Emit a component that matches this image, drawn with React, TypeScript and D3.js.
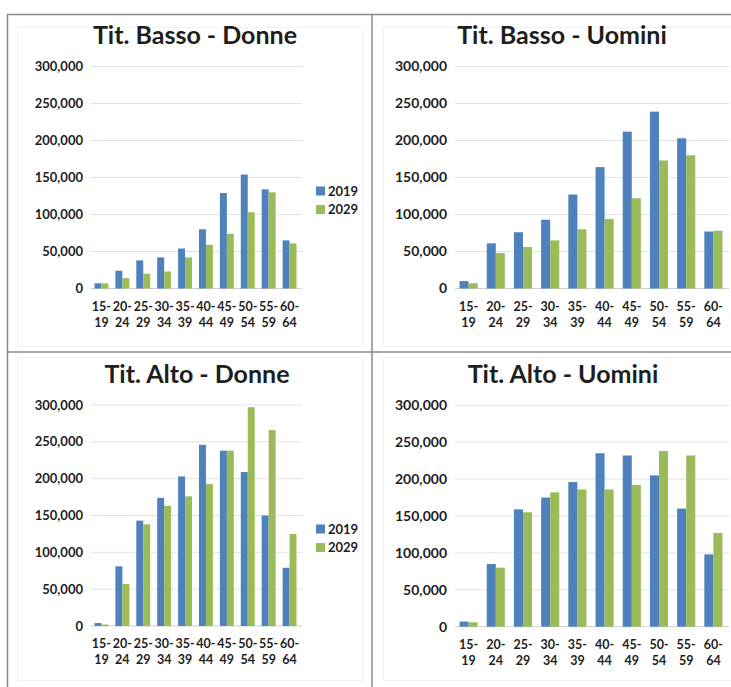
import React from "react";
import * as d3 from "d3";

const categories = ["15-19", "20-24", "25-29", "30-34", "35-39", "40-44", "45-49", "50-54", "55-59", "60-64"];
const seriesNames = ["2019", "2029"];
const yTicks = [0, 50000, 100000, 150000, 200000, 250000, 300000];

const bassoDonne2019 = [7000, 24000, 38000, 42000, 54000, 80000, 129000, 154000, 134000, 65000];
const bassoDonne2029 = [7000, 14000, 20000, 23000, 42000, 59000, 74000, 103000, 130000, 61000];
const bassoUomini2019 = [10000, 61000, 76000, 93000, 127000, 164000, 212000, 239000, 203000, 77000];
const bassoUomini2029 = [7000, 48000, 56000, 65000, 80000, 94000, 122000, 173000, 180000, 78000];
const altoDonne2019 = [4000, 81000, 143000, 174000, 203000, 246000, 238000, 209000, 150000, 79000];
const altoDonne2029 = [2000, 57000, 138000, 163000, 176000, 193000, 238000, 297000, 266000, 125000];
const altoUomini2019 = [7000, 85000, 159000, 175000, 196000, 235000, 232000, 205000, 160000, 98000];
const altoUomini2029 = [6000, 80000, 155000, 182000, 186000, 186000, 192000, 238000, 232000, 127000];

const titles = ["Tit. Basso - Donne", "Tit. Basso - Uomini", "Tit. Alto - Donne", "Tit. Alto - Uomini"];

const COLORS = ["#4F81BD", "#9BBB59"];
const FONT = "Lato, 'Open Sans', sans-serif";
const TXT = "#1e1e1e";

type Layout = {
  x0: number; x1: number; yTop: number; yBase: number;
  titleX: number; titleY: number; labelY: number; yLabelX: number; yFont: number;
  legend: null | { x: number; y: number };
};

const layouts: Layout[] = [
  { x0: 91, x1: 300, yTop: 66.5, yBase: 288.5, titleX: 195, titleY: 44, labelY: 311, yLabelX: 83, yFont: 13, legend: { x: 316, y: 191 } },
  { x0: 455, x1: 727, yTop: 66.5, yBase: 288.5, titleX: 562, titleY: 44, labelY: 311, yLabelX: 447, yFont: 14, legend: null },
  { x0: 91, x1: 300, yTop: 405, yBase: 626, titleX: 197, titleY: 383, labelY: 648, yLabelX: 83, yFont: 13, legend: { x: 316, y: 529 } },
  { x0: 455, x1: 727, yTop: 405.3, yBase: 626.7, titleX: 563, titleY: 383, labelY: 649, yLabelX: 447, yFont: 14, legend: null },
];

const panelData = [
  [bassoDonne2019, bassoDonne2029],
  [bassoUomini2019, bassoUomini2029],
  [altoDonne2019, altoDonne2029],
  [altoUomini2019, altoUomini2029],
];

const fmt = d3.format(",");

function Panel({ idx }: { idx: number }) {
  const L = layouts[idx];
  const data = panelData[idx];
  const x = d3.scaleBand<string>().domain(categories).range([L.x0, L.x1]).padding(0);
  const xi = d3.scaleBand<string>().domain(seriesNames).range([0, x.bandwidth()]).paddingInner(0).paddingOuter(0.5);
  const y = d3.scaleLinear().domain([0, 300000]).range([L.yBase, L.yTop]);
  return (
    <g>
      <text x={L.titleX} y={L.titleY} textAnchor="middle" fontFamily={FONT} fontWeight={700} fontSize={25} fill={TXT}>
        {titles[idx]}
      </text>
      {yTicks.map((t) => (
        <g key={t}>
          <line x1={L.x0} x2={L.x1 + 2} y1={y(t)} y2={y(t)} stroke={t === 0 ? "#cfcfcf" : "#e2e2e2"} strokeWidth={1} />
          <text x={L.yLabelX} y={y(t)} dy="0.35em" textAnchor="end" fontFamily={FONT} fontWeight={700} fontSize={L.yFont} fill={TXT}>
            {fmt(t)}
          </text>
        </g>
      ))}
      {data.map((vals, si) =>
        vals.map((v, ci) => (
          <rect
            key={si + "-" + ci}
            x={(x(categories[ci]) as number) + (xi(seriesNames[si]) as number)}
            y={y(v)}
            width={xi.bandwidth()}
            height={L.yBase - y(v)}
            fill={COLORS[si]}
          />
        ))
      )}
      {categories.map((c) => {
        const [a, b] = c.split("-");
        const cx = (x(c) as number) + x.bandwidth() / 2;
        return (
          <text key={c} x={cx} textAnchor="middle" fontFamily={FONT} fontWeight={700} fontSize={12.5} fill={TXT}>
            <tspan x={cx} y={L.labelY}>{a + "-"}</tspan>
            <tspan x={cx} y={L.labelY + 16}>{b}</tspan>
          </text>
        );
      })}
      {L.legend &&
        seriesNames.map((s, i) => (
          <g key={s}>
            <rect x={L.legend!.x} y={L.legend!.y + i * 18.5 - 4.5} width={9} height={9} fill={COLORS[i]} />
            <text x={L.legend!.x + 12} y={L.legend!.y + i * 18.5} dy="0.36em" fontFamily={FONT} fontWeight={700} fontSize={13} fill={TXT}>
              {s}
            </text>
          </g>
        ))}
    </g>
  );
}

export default function App() {
  return (
    <svg width={731} height={687} style={{ position: "absolute", left: 0, top: 0, display: "block", background: "#fff" }}>
      <rect x={0} y={0} width={731} height={687} fill="#fff" />
      {/* faint chart-area borders */}
      <rect x={17.5} y={27.5} width={346} height={319} fill="none" stroke="#f2f2f2" />
      <rect x={383.5} y={27.5} width={360} height={319} fill="none" stroke="#f2f2f2" />
      <rect x={17.5} y={357.5} width={346} height={323} fill="none" stroke="#f2f2f2" />
      <rect x={383.5} y={357.5} width={360} height={323} fill="none" stroke="#f2f2f2" />
      {[0, 1, 2, 3].map((i) => (
        <Panel key={i} idx={i} />
      ))}
      {/* outer frame / dividers */}
      <line x1={7} x2={731} y1={14.5} y2={14.5} stroke="#8a8a8a" strokeWidth={1.5} />
      <line x1={7.5} x2={7.5} y1={14} y2={687} stroke="#8a8a8a" strokeWidth={1.5} />
      <line x1={372} x2={372} y1={14} y2={687} stroke="#8a8a8a" strokeWidth={1.5} />
      <line x1={7} x2={731} y1={352} y2={352} stroke="#8a8a8a" strokeWidth={1.5} />
    </svg>
  );
}
